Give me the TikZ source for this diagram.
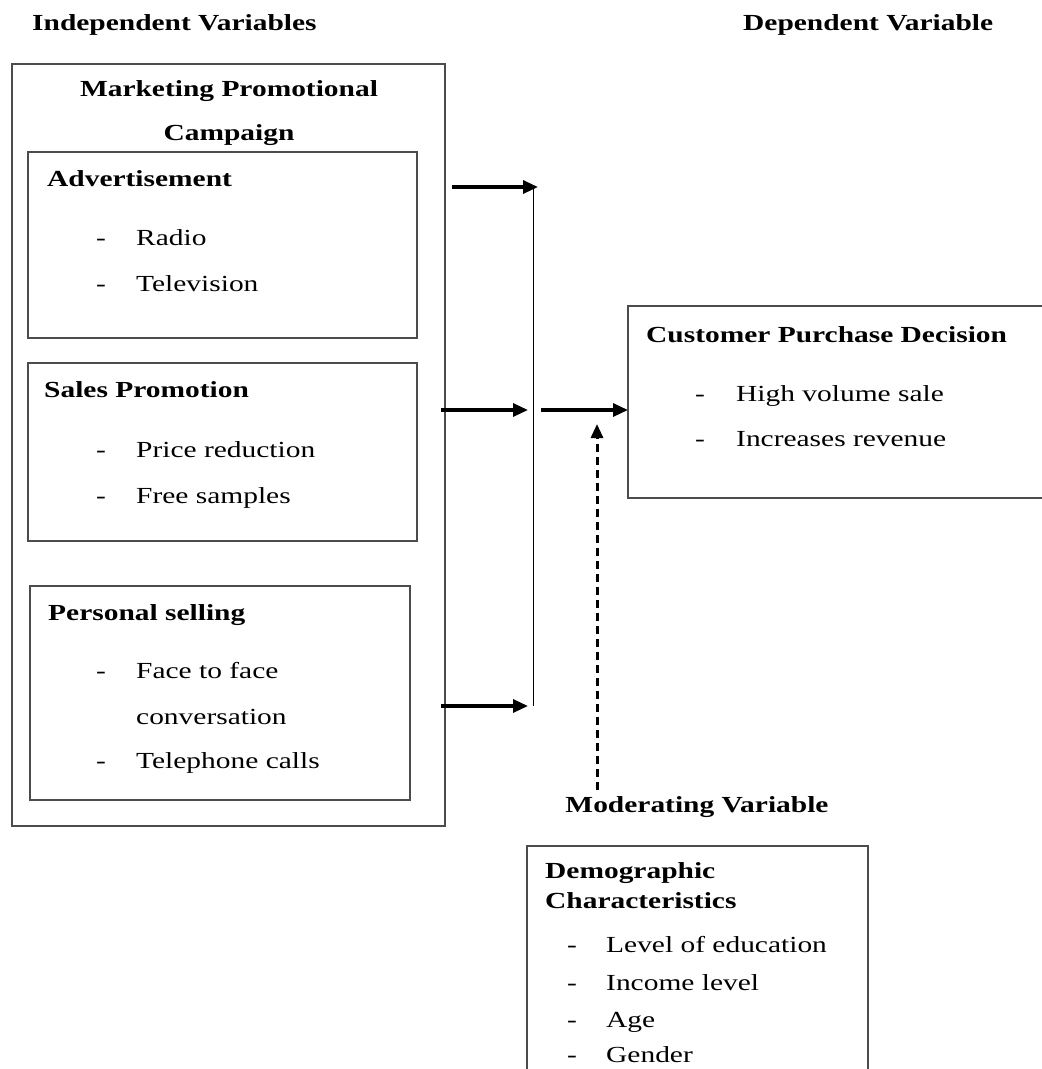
\documentclass[tikz,border=0pt]{standalone}
\usepackage{fontspec}
\setmainfont{Liberation Serif}[FakeStretch=1.28]
\usetikzlibrary{arrows.meta}
\begin{document}
\begin{tikzpicture}[x=1pt,y=-1pt,
  box/.style={draw=black!70,line width=1.2pt},
  txt/.style={anchor=base west,inner sep=0pt,font=\fontsize{23}{27}\selectfont},
  hd/.style={anchor=base west,inner sep=0pt,font=\fontsize{23}{27}\selectfont\bfseries},
  arr/.style={line width=3.2pt,-{Triangle[length=15pt,width=13pt]}},
  darr/.style={line width=3pt,dash pattern=on 8pt off 5pt,-{Triangle[length=14pt,width=12pt]}}]
\useasboundingbox (0,0) rectangle (1042,1069);
\clip (0,0) rectangle (1042,1069);
% headers
\node[hd] (iv) at (32,30) {Independent Variables};
\node[hd] (dv) at (743,30) {Dependent Variable};
% outer box
\draw[box] (12,64) rectangle (445,826);
\node[hd,anchor=base] (mpc1) at (229,96) {Marketing Promotional};
\node[hd,anchor=base] (mpc2) at (229,140) {Campaign};
% advertisement
\draw[box] (28,152) rectangle (417,338);
\node[hd] (adv) at (47,186) {Advertisement};
\node[txt] (d1) at (96,245) {-};
\node[txt] (radio) at (136,245) {Radio};
\node[txt] (d2) at (96,291) {-};
\node[txt] (tv) at (136,291) {Television};
% sales promotion
\draw[box] (28,363) rectangle (417,541);
\node[hd] (sp) at (44,397) {Sales Promotion};
\node[txt] (d3) at (96,457) {-};
\node[txt] (pr) at (136,457) {Price reduction};
\node[txt] (d4) at (96,503) {-};
\node[txt] (fs) at (136,503) {Free samples};
% personal selling
\draw[box] (30,586) rectangle (410,800);
\node[hd] (ps) at (48,620) {Personal selling};
\node[txt] (d5) at (96,678) {-};
\node[txt] (ff) at (136,678) {Face to face};
\node[txt] (cv) at (136,724) {conversation};
\node[txt] (d6) at (96,768) {-};
\node[txt] (tc) at (136,768) {Telephone calls};
% customer purchase decision
\draw[box] (628,306) rectangle (1060,498);
\node[hd] (cpd) at (646,342) {Customer Purchase Decision};
\node[txt] (d7) at (695,401) {-};
\node[txt] (hv) at (736,401) {High volume sale};
\node[txt] (d8) at (695,446) {-};
\node[txt] (ir) at (736,446) {Increases revenue};
% moderating
\node[hd,anchor=base] (mv) at (697,812) {Moderating Variable};
\draw[box] (527,1090) -- (527,846) -- (868,846) -- (868,1090);
\node[hd] (dc1) at (545,878) {Demographic};
\node[hd] (dc2) at (545,908) {Characteristics};
\node[txt] (d9) at (567,952) {-};
\node[txt] (le) at (606,952) {Level of education};
\node[txt] (d10) at (567,990) {-};
\node[txt] (il) at (606,990) {Income level};
\node[txt] (d11) at (567,1027) {-};
\node[txt] (ag) at (606,1027) {Age};
\node[txt] (d12) at (567,1062) {-};
\node[txt] (gd) at (606,1062) {Gender};
% connectors
\coordinate (a1s) at (452,187); \coordinate (a1e) at (538,187);
\coordinate (a2s) at (441,410); \coordinate (a2e) at (528,410);
\coordinate (a3s) at (441,706); \coordinate (a3e) at (528,706);
\coordinate (bt) at (533,187); \coordinate (bb) at (533,706);
\coordinate (a4s) at (541,410); \coordinate (a4e) at (628,410);
\coordinate (ms) at (597,790); \coordinate (me) at (597,424);
\draw[arr] (a1s) -- (a1e);
\draw[arr] (a2s) -- (a2e);
\draw[arr] (a3s) -- (a3e);
\draw[line width=1pt] (bt) -- (bb);
\draw[arr] (a4s) -- (a4e);
\draw[darr] (ms) -- (me);
\end{tikzpicture}
\end{document}
